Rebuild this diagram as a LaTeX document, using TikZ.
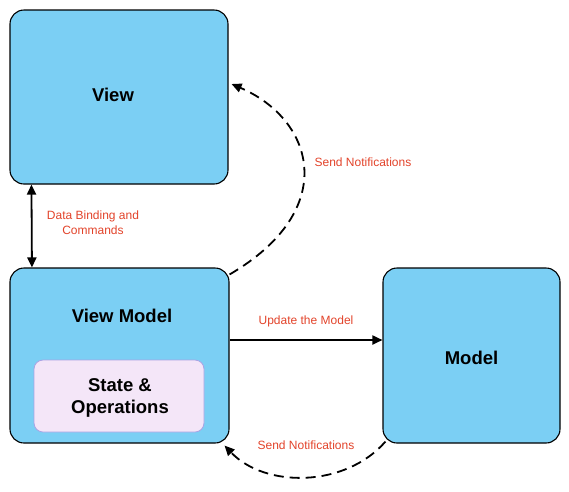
\documentclass[tikz,border=0pt]{standalone}
\usepackage{fontspec}
\setmainfont{Liberation Sans}
\usetikzlibrary{arrows.meta}
\definecolor{boxblue}{HTML}{7BCFF4}
\definecolor{lav}{HTML}{F4E6F8}
\definecolor{lavborder}{HTML}{A9A3E4}
\definecolor{lblred}{HTML}{E2432A}
\tikzset{
  bigbox/.style={draw=black, line width=1.1pt, fill=boxblue, rounded corners=14pt, inner sep=0pt},
  innerbox/.style={draw=lavborder, line width=0.8pt, fill=lav, rounded corners=9pt, inner sep=0pt},
  boldtxt/.style={font=\fontsize{18.5}{22}\selectfont\bfseries, align=center},
  lbl/.style={text=lblred, font=\fontsize{12}{15}\selectfont, align=center},
  conn/.style={line width=1.8pt, draw=black},
  tipend/.style={-{Triangle[length=10pt,width=9pt]}},
  dtip/.style={{Triangle[length=10pt,width=9pt]}-{Triangle[length=10pt,width=9pt]}},
  dashline/.style={dash pattern=on 10pt off 6pt}
}
\begin{document}
\begin{tikzpicture}[x=1pt,y=-1pt]
\useasboundingbox (0,0) rectangle (569,491);
% boxes
\node[bigbox, minimum width=218pt, minimum height=174pt] (view) at (119,97) {};
\node[boldtxt] (viewtxt) at (113,95) {View};
\node[bigbox, minimum width=219pt, minimum height=175pt] (vm) at (119.5,355.5) {};
\node[boldtxt] (vmtxt) at (122,316) {View Model};
\node[bigbox, minimum width=177pt, minimum height=175pt] (model) at (471.5,355.5) {};
\node[boldtxt] (modeltxt) at (471.5,358) {Model};
\node[innerbox, minimum width=170pt, minimum height=72pt] (state) at (119,396) {};
\node[boldtxt] (statetxt) at (120,398) {State \&\\Operations};
% data binding
\draw[conn, dtip] ([xshift=22pt]view.south west) -- ([xshift=22.5pt]vm.north west);
\node[lbl] (dblbl) at (93,223) {Data Binding and\\Commands};
% update
\draw[conn, tipend] ([yshift=15.5pt]vm.east) -- ([yshift=15.5pt]model.west);
\node[lbl] (updlbl) at (306,321) {Update the Model};
% send notifications top
\coordinate (topstart) at ([yshift=-7pt]vm.north east);
\coordinate (topend) at ([shift={(3pt,13pt)}]view.east);
\draw[conn, dashline, tipend] (topstart) .. controls (340,210) and (315,120) .. (topend);
\node[lbl] (toplbl) at (363,162) {Send Notifications};
% send notifications bottom
\coordinate (botstart) at ([shift={(3pt,2pt)}]model.south west);
\coordinate (botend) at ([shift={(-5pt,-2pt)}]vm.south east);
\draw[conn, dashline, tipend] (botstart) .. controls (345,488) and (265,488) .. (botend);
\node[lbl] (botlbl) at (306,445) {Send Notifications};
\end{tikzpicture}
\end{document}
